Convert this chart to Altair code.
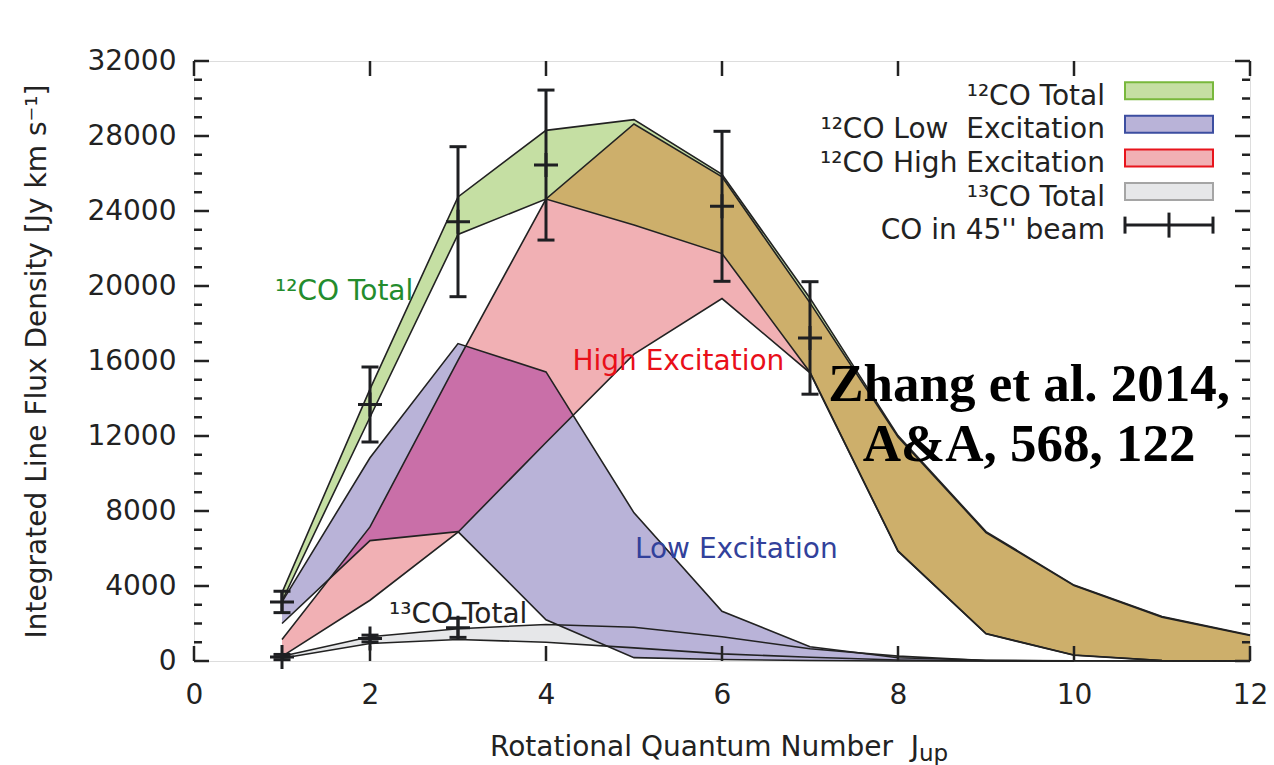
import altair as alt
import numpy as np
import pandas as pd

# ---- model bands (integrated line flux, Jy km/s) vs upper rotational level ----
J = list(range(1, 13))
co12_total_lo = [3200, 13000, 22750, 24640, 23250, 21730, 15400, 5870, 1460, 320, 25, 0]
co12_total_hi = [3650, 14500, 24750, 28300, 28870, 25950, 19350, 12020, 6900, 4050, 2370, 1390]
co12_low_lo = [2000, 6420, 6900, 2200, 180, 80, 30, 0, 0, 0, 0, 0]
co12_low_hi = [3150, 10840, 16930, 15420, 7900, 2650, 760, 170, 40, 10, 0, 0]
co12_high_lo = [250, 3240, 6870, 11650, 16370, 19330, 15370, 5850, 1450, 310, 20, 0]
co12_high_hi = [1150, 7150, 16030, 24640, 28640, 25820, 19100, 11950, 6850, 4020, 2340, 1360]

J13 = list(range(1, 11))
co13_lo = [150, 930, 1150, 1000, 700, 380, 200, 50, 0, 0]
co13_hi = [250, 1290, 1720, 1950, 1800, 1290, 650, 260, 30, 0]

# ---- observed fluxes in a 45" beam ----
obs12_J = [1, 2, 3, 4, 6, 7]
obs12_val = [3150, 13680, 23430, 26450, 24250, 17230]
obs12_err = [570, 2000, 4000, 4000, 4000, 3000]
obs13_J = [1, 2, 3]
obs13_val = [210, 1200, 1770]
obs13_err = [140, 180, 510]

# ---- layout ----
W, H = 1056, 600
XMAX, YMAX = 12, 32000
INK = "#222222"
FONT = "DejaVu Sans"
NBSP = "\u00a0"

GREEN, BLUE, RED, GRAY = "#c5dfa3", "#b9b3d8", "#f1b0b4", "#e6e7e9"
TAN, MAGENTA = "#cdaf6b", "#c96fa8"

XAXIS = alt.Axis(values=list(range(0, 13, 2)), title=None, ticks=False, domain=False,
                 grid=False, labelFontSize=28, labelPadding=20, labelFlush=False,
                 labelColor=INK, labelFont=FONT)
YAXIS = alt.Axis(values=list(range(0, 32001, 4000)), title="Integrated Line Flux Density [Jy km s⁻¹]",
                 ticks=False, domain=False, grid=False, format="d", labelFontSize=28,
                 labelPadding=18, labelColor=INK, labelFont=FONT,
                 titleFont=FONT, titleFontSize=28, titleFontWeight="normal", titleColor=INK,
                 titleAngle=270, titleX=-157, titleY=300, titleAlign="center",
                 titleBaseline="middle")
XS = alt.Scale(domain=[0, XMAX], nice=False, zero=False)
YS = alt.Scale(domain=[0, YMAX], nice=False, zero=False)


def X(field="J"):
    return alt.X(f"{field}:Q", scale=XS, axis=XAXIS)


def Y(field):
    return alt.Y(f"{field}:Q", scale=YS, axis=YAXIS)


def band(Jv, lo, hi):
    return pd.DataFrame({"J": Jv, "lo": lo, "hi": hi})


def overlap(Jv, a_lo, a_hi, b_lo, b_hi):
    """Intersection of two piecewise-linear bands, with vertices at every edge crossing."""
    Jv = np.asarray(Jv, float)
    a_lo, a_hi, b_lo, b_hi = (np.asarray(v, float) for v in (a_lo, a_hi, b_lo, b_hi))
    pairs = [(a_lo, b_lo), (a_hi, b_hi), (a_hi, b_lo), (b_hi, a_lo)]
    xs = set(Jv.tolist())
    for i in range(len(Jv) - 1):
        for f, g in pairs:
            d0, d1 = f[i] - g[i], f[i + 1] - g[i + 1]
            if d0 * d1 < 0:
                xs.add(Jv[i] + d0 / (d0 - d1))
    xs = np.array(sorted(xs))
    lo = np.maximum(np.interp(xs, Jv, a_lo), np.interp(xs, Jv, b_lo))
    hi = np.minimum(np.interp(xs, Jv, a_hi), np.interp(xs, Jv, b_hi))
    hi = np.maximum(hi, lo)
    return pd.DataFrame({"J": xs, "lo": lo, "hi": hi})


def fill(df, color):
    return alt.Chart(df).mark_area(color=color, opacity=1, interpolate="linear").encode(
        x=X(), y=Y("hi"), y2=alt.Y2("lo:Q"))


def edges(df):
    return [alt.Chart(df).mark_line(color=INK, strokeWidth=1.6).encode(x=X(), y=Y(f))
            for f in ("lo", "hi")]


b_total = band(J, co12_total_lo, co12_total_hi)
b_low = band(J, co12_low_lo, co12_low_hi)
b_high = band(J, co12_high_lo, co12_high_hi)
b_13 = band(J13, co13_lo, co13_hi)

layers = [
    fill(b_13, GRAY),
    fill(b_low, BLUE),
    fill(b_high, RED),
    fill(b_total, GREEN),
    fill(overlap(J, co12_total_lo, co12_total_hi, co12_high_lo, co12_high_hi), TAN),
    fill(overlap(J, co12_low_lo, co12_low_hi, co12_high_lo, co12_high_hi), MAGENTA),
]
for b in (b_13, b_low, b_high, b_total):
    layers += edges(b)

# ---- error bars with caps and a "+" at the measured value ----
CAP = 8.5 * XMAX / W
PLUS = "M-1,0L1,0M0,-1L0,1"


def errorbars(Jv, val, err):
    df = pd.DataFrame({"J": Jv, "v": val, "e": err})
    df["lo"] = df["v"] - df["e"]
    df["hi"] = df["v"] + df["e"]
    df["cl"] = df["J"] - CAP
    df["cr"] = df["J"] + CAP
    base = alt.Chart(df)
    rule = dict(color="#1e1f22", strokeWidth=3)
    return [
        base.mark_rule(**rule).encode(x=X(), y=Y("lo"), y2=alt.Y2("hi:Q")),
        base.mark_rule(**rule).encode(x=X("cl"), x2=alt.X2("cr:Q"), y=Y("lo")),
        base.mark_rule(**rule).encode(x=X("cl"), x2=alt.X2("cr:Q"), y=Y("hi")),
        base.mark_point(shape=PLUS, size=576, filled=False, strokeWidth=3,
                        color="#1e1f22", opacity=1).encode(x=X(), y=Y("v")),
    ]


layers += errorbars(obs12_J, obs12_val, obs12_err)
layers += errorbars(obs13_J, obs13_val, obs13_err)

# ---- in-plot labels ----
labels = [
    ("¹²CO Total", 0.92, 19240, "#238c2d"),
    ("High Excitation", 4.30, 15510, "#e90f19"),
    ("Low Excitation", 5.01, 5470, "#32419b"),
    ("¹³CO Total", 2.216, 2040, INK),
]
for text, jx, yv, col in labels:
    layers.append(
        alt.Chart(pd.DataFrame({"J": [jx], "v": [yv], "t": [text]}))
        .mark_text(font=FONT, fontSize=28, color=col, align="left", baseline="alphabetic")
        .encode(x=X(), y=Y("v"), text="t:N"))

citation = pd.DataFrame({"J": [9.49, 9.49], "v": [13860, 10660],
                         "t": ["Zhang et al. 2014,", "A&A, 568, 122"]})
layers.append(
    alt.Chart(citation).mark_text(font="Liberation Serif", fontWeight="bold", fontSize=53,
                                  color="#000000", align="center", baseline="alphabetic")
    .encode(x=X(), y=Y("v"), text="t:N"))

# ---- inward ticks on all four sides ----
xt = pd.DataFrame({"J": list(range(0, 13, 2))})
ymaj = pd.DataFrame({"v": list(range(0, 32001, 4000))})
ymin = pd.DataFrame({"v": [v for v in range(0, 32001, 1000) if v % 4000]})
tick = dict(color=INK, strokeWidth=2.5)
layers += [
    alt.Chart(xt).mark_rule(**tick).encode(x=X(), y=alt.value(H), y2=alt.value(H - 15)),
    alt.Chart(xt).mark_rule(**tick).encode(x=X(), y=alt.value(0), y2=alt.value(15)),
    alt.Chart(ymaj).mark_rule(**tick).encode(y=Y("v"), x=alt.value(0), x2=alt.value(15)),
    alt.Chart(ymaj).mark_rule(**tick).encode(y=Y("v"), x=alt.value(W), x2=alt.value(W - 15)),
    alt.Chart(ymin).mark_rule(**tick).encode(y=Y("v"), x=alt.value(0), x2=alt.value(8)),
    alt.Chart(ymin).mark_rule(**tick).encode(y=Y("v"), x=alt.value(W), x2=alt.value(W - 8)),
]

# ---- x axis title with subscript ----
one = alt.Data(values=[{"k": 0}])
layers.append(alt.Chart(one).mark_text(font=FONT, fontSize=28, color=INK, align="left",
                                       baseline="alphabetic",
                                       text="Rotational Quantum Number " + NBSP + "J")
              .encode(x=alt.value(296), y=alt.value(695)))
layers.append(alt.Chart(one).mark_text(font=FONT, fontSize=23, color=INK, align="left",
                                       baseline="alphabetic", text="up")
              .encode(x=alt.value(725), y=alt.value(700)))

# ---- key ----
key = [
    ("¹²CO Total", GREEN, "#78b83c"),
    ("¹²CO Low " + NBSP + "Excitation", BLUE, "#3c4ea0"),
    ("¹²CO High Excitation", RED, "#e8141c"),
    ("¹³CO Total", GRAY, "#a5a5a5"),
]
ROW0, ROWSTEP = 29.7, 33.6
SW_L, SW_R, TXT_R = 931, 1019, 911
for i, (text, fc, sc) in enumerate(key):
    cy = ROW0 + i * ROWSTEP
    layers.append(alt.Chart(one).mark_rect(color=fc, stroke=sc, strokeWidth=2)
                  .encode(x=alt.value(SW_L), x2=alt.value(SW_R),
                          y=alt.value(cy - 8.5), y2=alt.value(cy + 8.5)))
    layers.append(alt.Chart(one).mark_text(font=FONT, fontSize=28, color=INK, align="right",
                                           baseline="alphabetic", text=text)
                  .encode(x=alt.value(TXT_R), y=alt.value(cy + 14)))

cy = ROW0 + 4 * ROWSTEP
mid = (SW_L + SW_R) / 2
krule = dict(color="#1e1f22", strokeWidth=3)
layers += [
    alt.Chart(one).mark_text(font=FONT, fontSize=28, color=INK, align="right",
                             baseline="alphabetic", text="CO in 45'' beam")
    .encode(x=alt.value(TXT_R), y=alt.value(cy + 14)),
    alt.Chart(one).mark_rule(**krule).encode(x=alt.value(SW_L), x2=alt.value(SW_R),
                                             y=alt.value(cy)),
    alt.Chart(one).mark_rule(**krule).encode(x=alt.value(SW_L), y=alt.value(cy - 8.5),
                                             y2=alt.value(cy + 8.5)),
    alt.Chart(one).mark_rule(**krule).encode(x=alt.value(SW_R), y=alt.value(cy - 8.5),
                                             y2=alt.value(cy + 8.5)),
    alt.Chart(one).mark_rule(**krule).encode(x=alt.value(mid), y=alt.value(cy - 12.5),
                                             y2=alt.value(cy + 12.5)),
]

chart = (
    alt.layer(*layers)
    .properties(width=W, height=H,
                padding={"left": 194, "top": 61, "right": 24, "bottom": 104},
                autosize=alt.AutoSizeParams(type="none"))
    .configure_view(stroke=INK, strokeWidth=3)
    .configure(background="white")
)

chart.save("out.html", embed_options={"renderer": "svg", "actions": False})
